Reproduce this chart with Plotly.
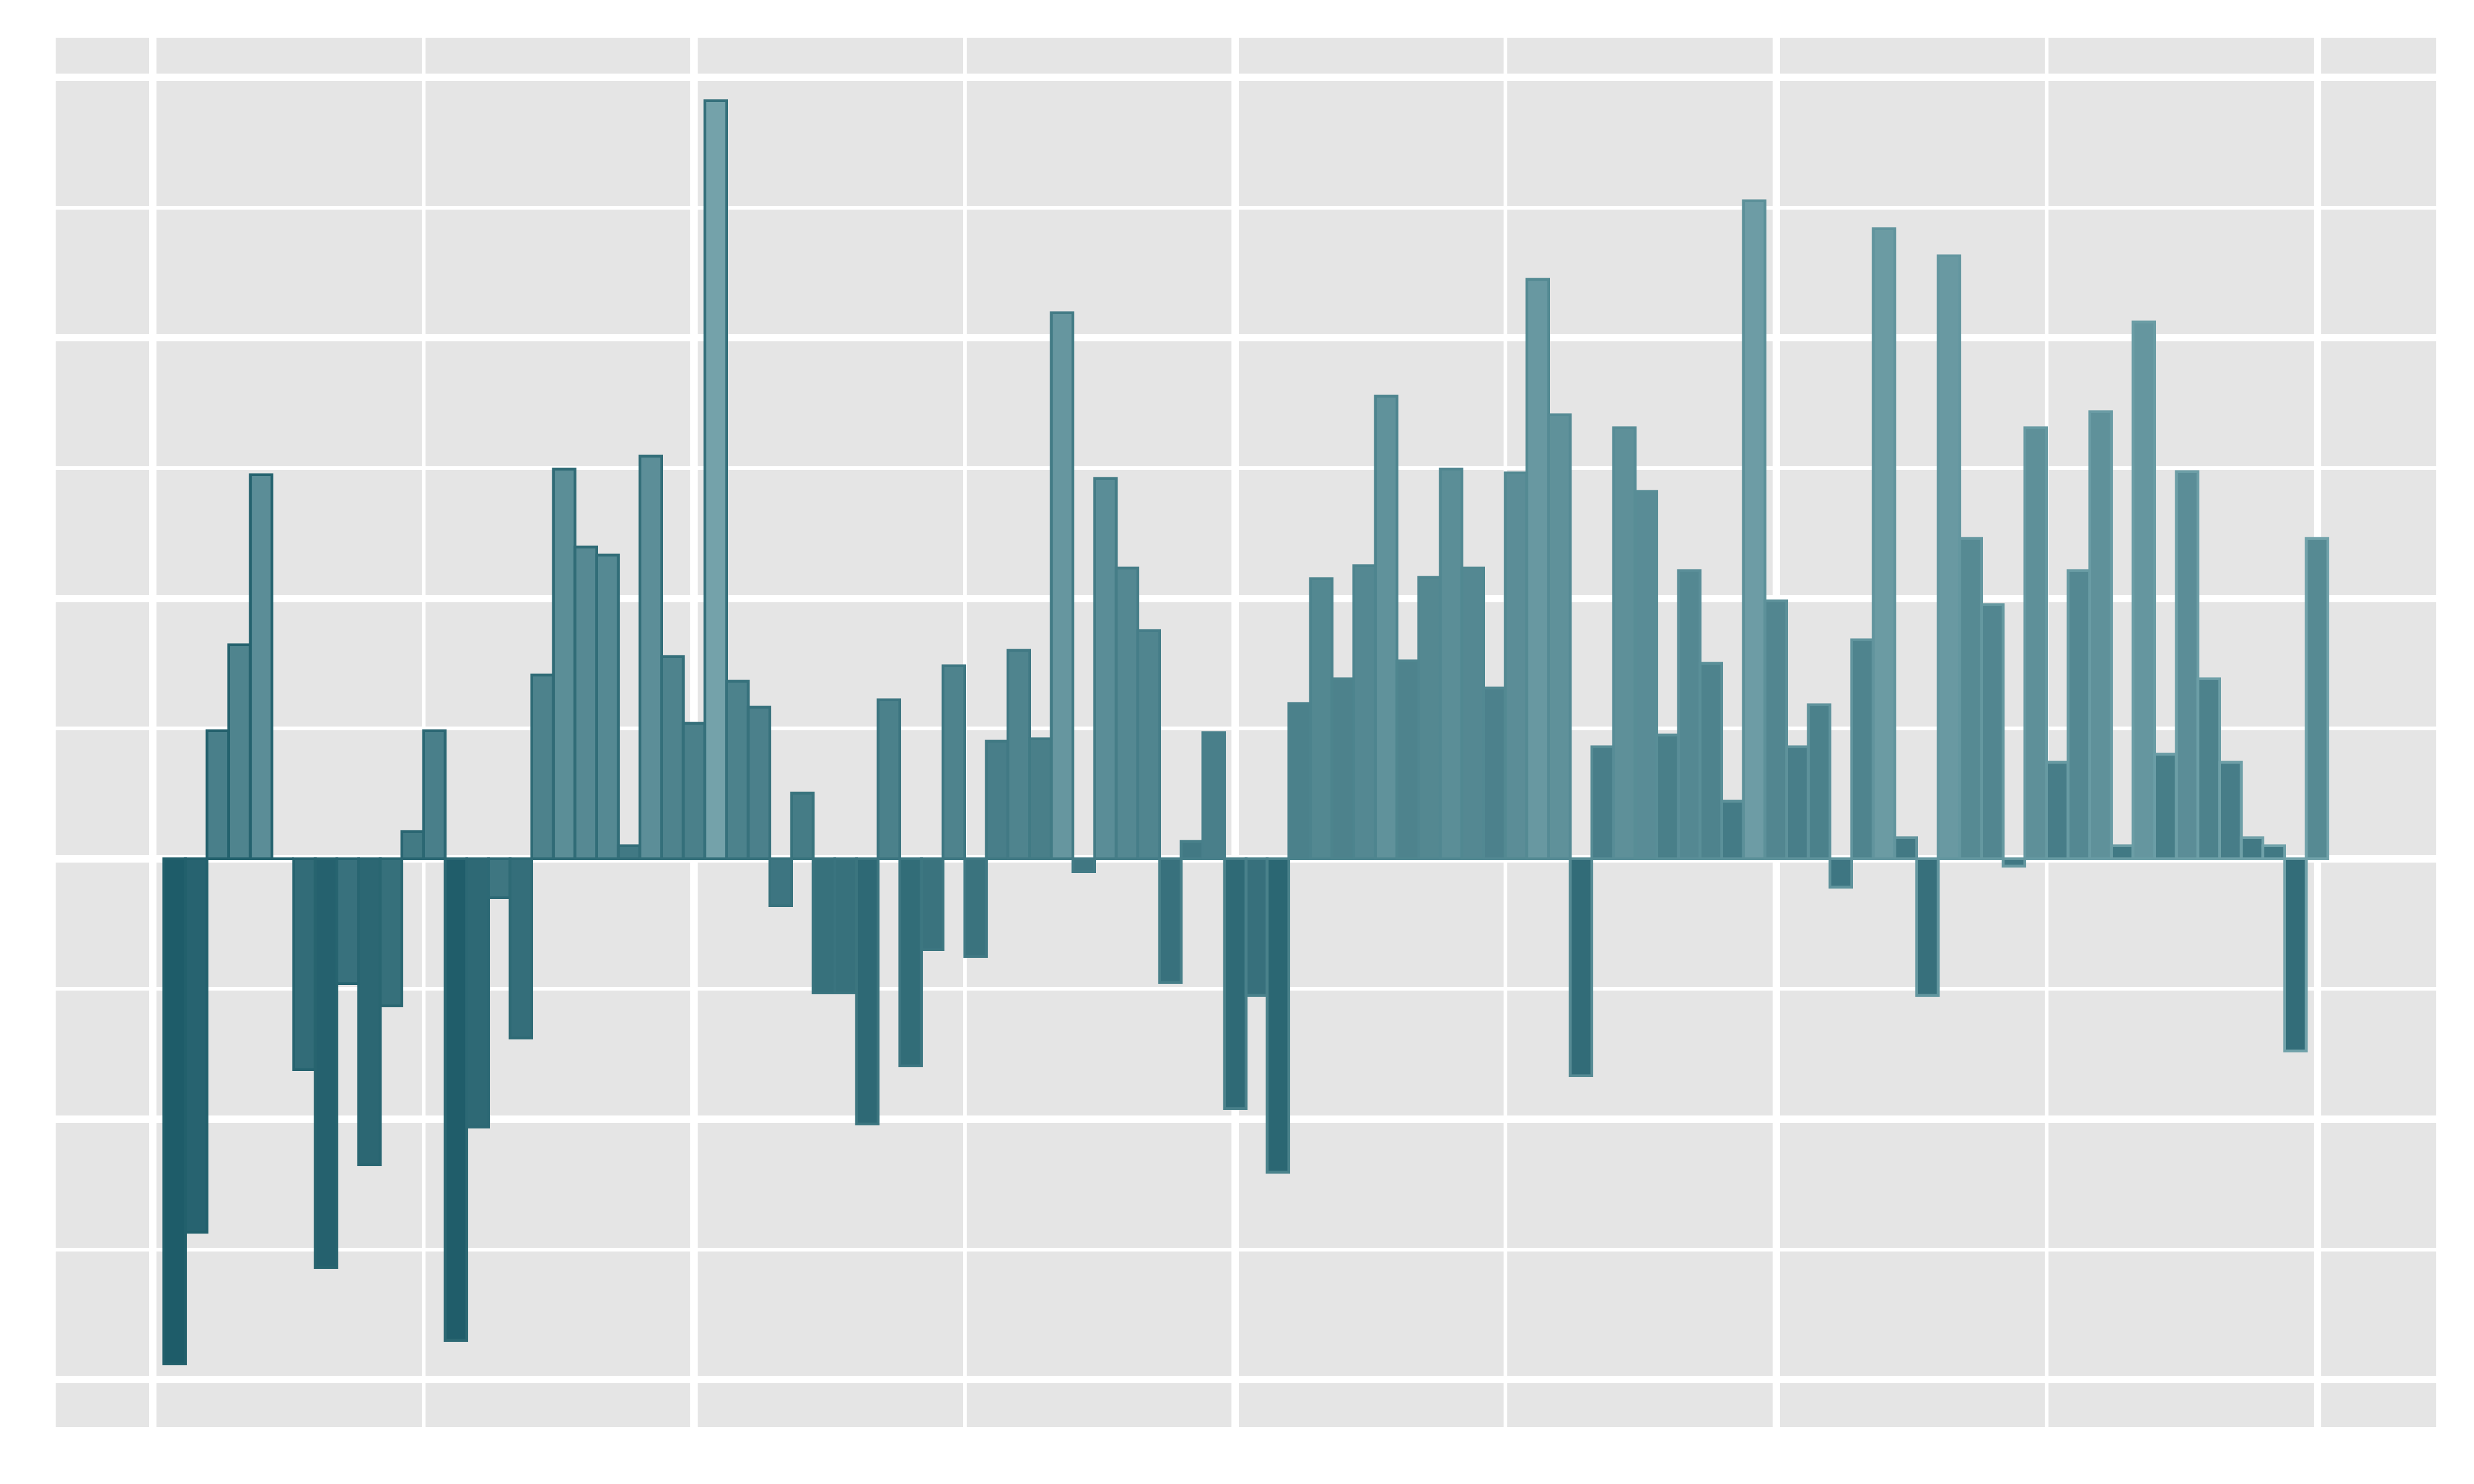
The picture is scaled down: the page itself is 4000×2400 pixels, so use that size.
import plotly.graph_objects as go

# bar positions (index) and values
idx = list(range(1, 101))
values = [-3.88, -2.87, 0.98, 1.64, 2.95, 0.0, -1.62, -3.14, -0.96, -2.35,
          -1.13, 0.21, 0.98, -3.70, -2.06, -0.30, -1.38, 1.41, 2.99, 2.39,
          2.33, 0.10, 3.09, 1.55, 1.04, 5.82, 1.36, 1.16, -0.36, 0.50,
          -1.03, -1.03, -2.04, 1.22, -1.59, -0.70, 1.48, -0.75, 0.90, 1.60,
          0.92, 4.19, -0.10, 2.92, 2.23, 1.75, -0.95, 0.13, 0.97, -1.92,
          -1.05, -2.41, 1.19, 2.15, 1.38, 2.25, 3.55, 1.52, 2.16, 2.99,
          2.23, 1.31, 2.96, 4.45, 3.41, -1.67, 0.86, 3.31, 2.82, 0.95,
          2.21, 1.50, 0.44, 5.05, 1.98, 0.86, 1.18, -0.22, 1.68, 4.84,
          0.16, -1.05, 4.63, 2.46, 1.95, -0.06, 3.31, 0.74, 2.21, 3.43,
          0.10, 4.12, 0.80, 2.97, 1.38, 0.74, 0.16, 0.10, -1.48, 2.46]

x_major = [0, 25, 50, 75, 100]
x_minor = [12.5, 37.5, 62.5, 87.5]
y_major = [-4, -2, 0, 2, 4, 6]
y_minor = [-3, -1, 1, 3, 5]

fill_scale = [[0, "#1e5c69"], [1, "#74a2aa"]]
line_scale = [[0, "#215f6b"], [1, "#71a2aa"]]

fig = go.Figure()
fig.add_trace(go.Bar(
    x=idx, y=values, width=1,
    marker=dict(
        color=values, colorscale=fill_scale,
        cmin=min(values), cmax=max(values),
        line=dict(color=idx, colorscale=line_scale, cmin=1, cmax=100, width=4.5),
    ),
    showlegend=False,
))

ymin, ymax = min(values), max(values)
pad = (ymax - ymin) * 0.05

# page body has an 8px default margin, so the figure is sized to fit 4000x2400
fig.update_layout(
    width=3984, height=2384,
    margin=dict(l=82, r=53, t=53, b=84),
    paper_bgcolor="white",
    plot_bgcolor="#E5E5E5",
    bargap=0,
    xaxis=dict(
        range=[0.5 - 5, 100.5 + 5],
        tickmode="array", tickvals=x_major,
        showticklabels=False, ticks="",
        showgrid=True, gridcolor="white", gridwidth=12,
        zeroline=False, showline=False,
        minor=dict(tickvals=x_minor, showgrid=True, gridcolor="white", gridwidth=6, ticks=""),
    ),
    yaxis=dict(
        range=[ymin - pad, ymax + pad],
        tickmode="array", tickvals=y_major,
        showticklabels=False, ticks="",
        showgrid=True, gridcolor="white", gridwidth=12,
        zeroline=False, showline=False,
        minor=dict(tickvals=y_minor, showgrid=True, gridcolor="white", gridwidth=6, ticks=""),
    ),
)

fig.write_html("out.html")
